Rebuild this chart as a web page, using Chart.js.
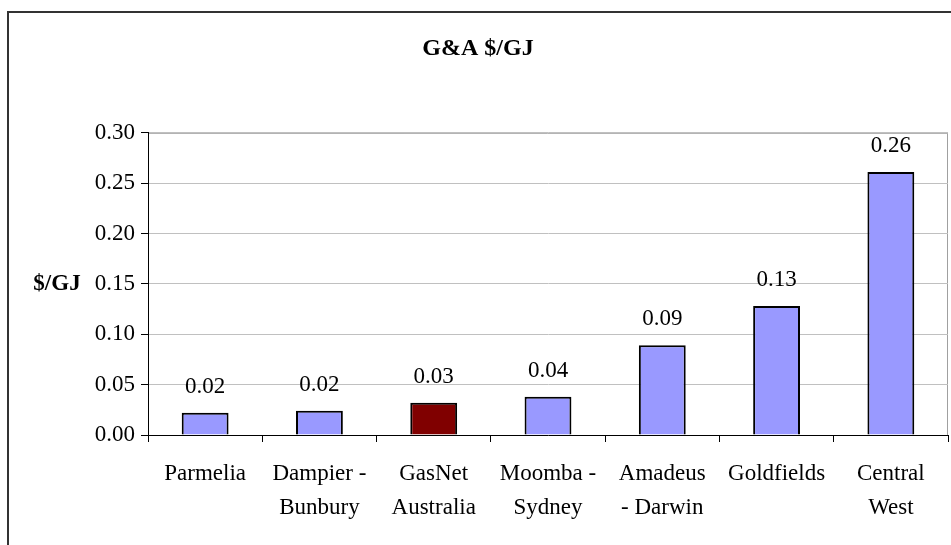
<!DOCTYPE html>
<html>
<head>
<meta charset="utf-8">
<script src="https://cdn.jsdelivr.net/npm/chart.js@4.4.1/dist/chart.umd.min.js"></script>
<style>
  html, body { margin: 0; padding: 0; background: #fff; }
  #wrap { width: 951px; height: 545px; }
</style>
</head>
<body>
<div id="wrap"><canvas id="myChart" width="951" height="545"></canvas></div>
<script>
// Data
const categories = [
    'Parmelia',
    ['Dampier -', 'Bunbury'],
    ['GasNet', 'Australia'],
    ['Moomba -', 'Sydney'],
    ['Amadeus', '- Darwin'],
    'Goldfields',
    ['Central', 'West']
];
const gaValues = [0.022, 0.024, 0.032, 0.038, 0.089, 0.128, 0.261];
const barColors = ['#9999ff', '#9999ff', '#800000', '#9999ff', '#9999ff', '#9999ff', '#9999ff'];
const yTicks = [0, 0.05, 0.10, 0.15, 0.20, 0.25, 0.30];

const serif = "'Liberation Serif', 'Times New Roman', serif";

// frame, plot border, axis title and value labels
const extras = {
    id: 'extras',
    beforeDraw(chart) {
        const c = chart.ctx;
        c.save();
        c.strokeStyle = '#333';
        c.lineWidth = 2;
        c.beginPath();
        c.moveTo(8, 560);
        c.lineTo(8, 12);
        c.lineTo(960, 12);
        c.stroke();
        const a = chart.chartArea;
        c.strokeStyle = '#a0a0a0';
        c.lineWidth = 1;
        c.beginPath();
        c.moveTo(a.left, a.top + 0.5);
        c.lineTo(a.right - 0.5, a.top + 0.5);
        c.lineTo(a.right - 0.5, a.bottom);
        c.stroke();
        c.restore();
    },
    afterDatasetsDraw(chart) {
        const c = chart.ctx;
        c.save();
        c.fillStyle = '#000';
        c.font = '23px ' + serif;
        c.textAlign = 'center';
        c.textBaseline = 'alphabetic';
        chart.getDatasetMeta(0).data.forEach((bar, i) => {
            c.fillText(gaValues[i].toFixed(2), bar.x, bar.y - 20);
        });
        c.font = 'bold 23px ' + serif;
        c.textBaseline = 'middle';
        const y = chart.scales.y.getPixelForValue(0.15);
        c.fillText('$/GJ', 57, y);
        c.restore();
    }
};

const ctx = document.getElementById('myChart').getContext('2d');
const myChart = new Chart(ctx, {
    type: 'bar',
    data: {
        labels: categories,
        datasets: [{
            label: 'G&A $/GJ',
            data: gaValues,
            backgroundColor: barColors,
            borderColor: '#000',
            borderWidth: 2,
            categoryPercentage: 1,
            barPercentage: 0.41
        }]
    },
    options: {
        responsive: false,
        animation: false,
        layout: { padding: { left: 8, right: 3, bottom: 0 } },
        plugins: {
            legend: { display: false },
            tooltip: { enabled: false },
            title: {
                display: true,
                text: 'G&A $/GJ',
                color: '#000',
                font: { family: serif, size: 24, weight: 'bold', lineHeight: 1.2 },
                padding: { top: 34, bottom: 70 }
            }
        },
        scales: {
            x: {
                grid: {
                    display: true,
                    offset: true,
                    drawOnChartArea: false,
                    tickColor: '#000',
                    tickLength: 7
                },
                border: { color: '#000', width: 1 },
                ticks: {
                    color: '#000',
                    font: { family: serif, size: 23, lineHeight: 1.52 },
                    padding: 14,
                    maxRotation: 0,
                    autoSkip: false
                },
                afterFit(scale) { scale.height = 110; }
            },
            y: {
                min: 0,
                max: 0.30,
                afterBuildTicks(scale) {
                    scale.ticks = yTicks.map(v => ({ value: v }));
                },
                grid: {
                    color: '#c0c0c0',
                    tickColor: '#000',
                    tickLength: 7
                },
                border: { color: '#000', width: 1 },
                ticks: {
                    color: '#000',
                    font: { family: serif, size: 23 },
                    padding: 6,
                    callback: v => Number(v).toFixed(2)
                },
                afterFit(scale) { scale.width = 140; }
            }
        }
    },
    plugins: [extras]
});
</script>
</body>
</html>
